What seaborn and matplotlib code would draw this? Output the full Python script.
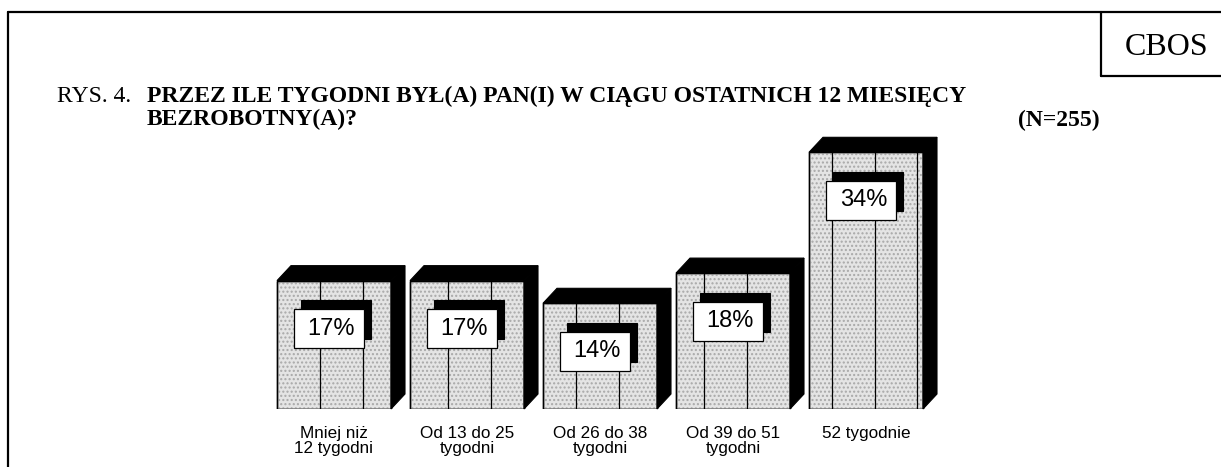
import numpy as np
import pandas as pd
import seaborn as sns
import matplotlib.pyplot as plt
from matplotlib.lines import Line2D
from matplotlib.patches import Polygon, Rectangle


# -----------------------------
# Data
# -----------------------------
categories = [
    "Mniej niż\n12 tygodni",
    "Od 13 do 25\ntygodni",
    "Od 26 do 38\ntygodni",
    "Od 39 do 51\ntygodni",
    "52 tygodnie",
]
values = [17, 17, 14, 18, 34]
value_labels = ["17%", "17%", "14%", "18%", "34%"]

TITLE_PREFIX = "RYS. 4."
TITLE_LINES = [
    "PRZEZ ILE TYGODNI BYŁ(A) PAN(I) W CIĄGU OSTATNICH 12 MIESIĘCY",
    "BEZROBOTNY(A)?",
]
N_TEXT = "(N=255)"
LOGO = "CBOS"

# -----------------------------
# Style
# -----------------------------
W, H = 1221, 467
SERIF = ["Liberation Serif", "DejaVu Serif"]
SANS = ["Liberation Sans", "DejaVu Sans"]
FACE = "#e4e4e4"
PX_X = 133.0          # pixels per category
PX_Y = 302.0 / 40    # pixels per percent
TITLE_SIZE = 17


def fx(px):
    return px / W


def fy(py):
    return 1 - py / H


sns.set_theme(style="white")
plt.rcParams["font.family"] = SANS
plt.rcParams["text.color"] = "black"
plt.rcParams["xtick.color"] = "black"

fig = plt.figure(figsize=(W / 100, H / 100), dpi=100)
ax = fig.add_axes([fx(267.5), fy(409), 665 / W, 302 / H])

df = pd.DataFrame({"cat": categories, "val": values})
sns.barplot(
    data=df, x="cat", y="val", color=FACE, saturation=1,
    edgecolor="black", linewidth=1.0, width=114 / PX_X, ax=ax, zorder=2,
)

ax.set_xlim(-0.5, 4.5)
ax.set_ylim(0, 40)
ax.set_xlabel("")
ax.set_ylabel("")
ax.set_yticks([])
sns.despine(ax=ax, left=True, bottom=True)
ax.patch.set_alpha(0)
ax.tick_params(axis="x", length=0, pad=12, colors="black")
for lbl in ax.get_xticklabels():
    lbl.set_fontsize(12.3)
    lbl.set_linespacing(1.05)
    lbl.set_family(SANS)
    lbl.set_color("black")

# -----------------------------
# 3D look, stripes, labels
# -----------------------------
dx = 14 / PX_X
dy = 15 / PX_Y
stripe_period = 42.67 / PX_X
stripe_phase = (320 - 334) / PX_X

box_w = 70 / PX_X
box_h = 39 / PX_Y
sh_dx = 7 / PX_X
sh_dy = 9 / PX_Y

bars = list(ax.patches)
for bar, txt in zip(bars, value_labels):
    x0 = bar.get_x()
    w = bar.get_width()
    h = bar.get_height()
    x1 = x0 + w

    # stipple
    ax.add_patch(Rectangle((x0, 0), w, h, fill=False, hatch="....",
                           edgecolor="#a8a8a8", linewidth=0, zorder=2.1))

    # top and side faces
    ax.add_patch(Polygon([(x0, h), (x0 + dx, h + dy), (x1 + dx, h + dy), (x1, h)],
                         closed=True, facecolor="black", edgecolor="black",
                         linewidth=0.8, zorder=3, clip_on=False))
    ax.add_patch(Polygon([(x1, 0), (x1 + dx, dy), (x1 + dx, h + dy), (x1, h)],
                         closed=True, facecolor="black", edgecolor="black",
                         linewidth=0.8, zorder=3, clip_on=False))
    ax.add_patch(Rectangle((x0, 0), w, h, fill=False, edgecolor="black",
                           linewidth=1.0, zorder=3.1))

    # vertical stripes
    k0 = int(np.ceil((x0 - stripe_phase) / stripe_period))
    k1 = int(np.floor((x1 - stripe_phase) / stripe_period))
    for k in range(k0, k1 + 1):
        xs = stripe_phase + k * stripe_period
        if x0 + 0.015 < xs < x1 - 0.015:
            ax.plot([xs, xs], [0, h], color="black", linewidth=0.9, zorder=3)

    # value label with shadow
    cx = x0 + w / 2 - 0.04
    cy = h - 48 / PX_Y
    ax.add_patch(Rectangle((cx - box_w / 2 + sh_dx, cy - box_h / 2 + sh_dy),
                           box_w, box_h, facecolor="black", edgecolor="black",
                           linewidth=0.8, zorder=4))
    ax.add_patch(Rectangle((cx - box_w / 2, cy - box_h / 2), box_w, box_h,
                           facecolor="white", edgecolor="black",
                           linewidth=0.9, zorder=5))
    ax.text(cx + 0.02, cy, txt, ha="center", va="center", fontsize=17,
            family=SANS, color="black", zorder=6)

# -----------------------------
# Frame and titles
# -----------------------------
frame_lw = 1.6
fig.add_artist(Line2D([fx(8), 1], [fy(12), fy(12)], color="black", linewidth=frame_lw))
fig.add_artist(Line2D([fx(8), fx(8)], [fy(12), 0], color="black", linewidth=frame_lw))
fig.add_artist(Line2D([fx(1101), fx(1101)], [fy(12), fy(76)], color="black", linewidth=frame_lw))
fig.add_artist(Line2D([fx(1101), 1], [fy(76), fy(76)], color="black", linewidth=frame_lw))

fig.text(fx(1125), fy(55), LOGO, family=SERIF, fontsize=23, color="black",
         ha="left", va="baseline")
fig.text(fx(57), fy(102), TITLE_PREFIX, family=SERIF, fontsize=TITLE_SIZE,
         color="black", ha="left", va="baseline")
fig.text(fx(147), fy(102), TITLE_LINES[0], family=SERIF, fontsize=TITLE_SIZE,
         fontweight="bold", color="black", ha="left", va="baseline")
fig.text(fx(147), fy(125), TITLE_LINES[1], family=SERIF, fontsize=TITLE_SIZE,
         fontweight="bold", color="black", ha="left", va="baseline")
fig.text(fx(1018), fy(126), N_TEXT, family=SERIF, fontsize=TITLE_SIZE,
         fontweight="bold", color="black", ha="left", va="baseline")

fig.savefig("out.png", dpi=100)
